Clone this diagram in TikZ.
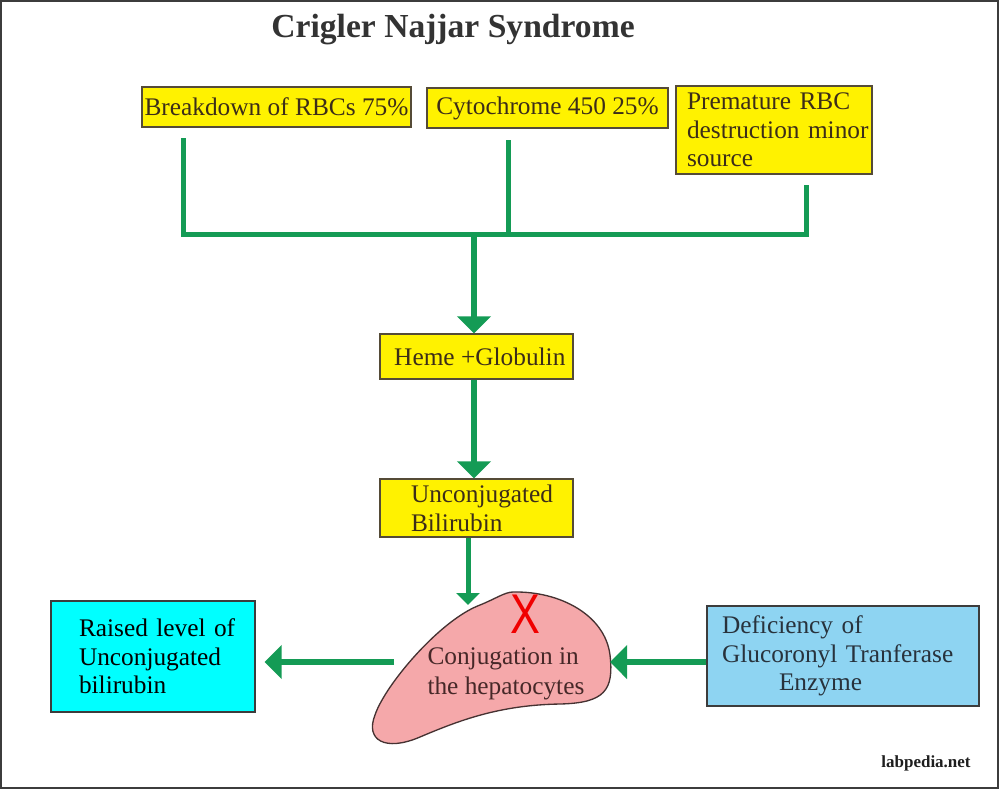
\documentclass[tikz,border=0pt]{standalone}
\usepackage{fontspec}
\setmainfont{Liberation Serif}
\newfontfamily\xfont{Liberation Sans}
\usetikzlibrary{arrows.meta}

\definecolor{boxyellow}{RGB}{255,242,0}
\definecolor{boxedge}{RGB}{85,75,55}
\definecolor{ytext}{RGB}{60,45,25}
\definecolor{flowgreen}{RGB}{20,155,85}
\definecolor{raisedcyan}{RGB}{0,255,255}
\definecolor{deficblue}{RGB}{142,212,242}
\definecolor{liverpink}{RGB}{245,168,170}
\definecolor{liveredge}{RGB}{70,50,50}
\definecolor{conjtext}{RGB}{70,40,40}
\definecolor{crossred}{RGB}{240,0,0}
\definecolor{framegray}{RGB}{60,60,60}

\tikzset{every picture/.style={line width=0.75pt}}
\tikzset{
  txt/.style={font=\fontsize{19}{21.5}\selectfont},
  ybox/.style={txt, draw=boxedge, fill=boxyellow, line width=1pt, text=ytext, inner sep=0pt},
  bbox/.style={txt, draw=framegray, line width=1pt, inner sep=0pt},
  lefttext/.style={text width=#1, align=left},
  bus/.style={draw=flowgreen, line width=3.75pt},
  bigarrow/.style={draw=flowgreen, line width=5pt, -{Triangle[width=24.75pt,length=12.75pt]}},
  smallarrow/.style={draw=flowgreen, line width=3.75pt, -{Triangle[width=17.25pt,length=9pt]}},
}

\begin{document}
\begin{tikzpicture}[x=0.75pt,y=0.75pt,yscale=-1,xscale=1]
\useasboundingbox (0,0) rectangle (999,789);

%Frame
\draw[framegray, line width=1.2pt] (0.8,0.8) rectangle (998.2,788.2);

% Text Node
\draw (453,37) node (title) [anchor=base, inner sep=0pt, text={rgb,255:red,51;green,51;blue,51},
  font=\fontsize{25.2}{28}\selectfont\bfseries] {Crigler Najjar Syndrome};

%Shape: Rectangle
\draw (276.5,107) node (brk) [ybox, minimum width=201.75pt, minimum height=30pt] {Breakdown of RBCs 75\%};
%Shape: Rectangle
\draw (547.5,108) node (cyt) [ybox, minimum width=180.75pt, minimum height=30pt] {Cytochrome 450 25\%};
%Shape: Rectangle
\draw (774,130) node (prem) [ybox, minimum height=66pt, lefttext=147pt]
  {\hspace*{8.25pt}Premature RBC\\\hspace*{8.25pt}destruction minor\\\hspace*{8.25pt}source};
%Shape: Rectangle
\draw (476.5,356.5) node (heme) [ybox, minimum width=144.75pt, minimum height=33.75pt] {\hspace*{5pt}Heme +Globulin};
%Shape: Rectangle
\draw (476.5,508) node (uncon) [ybox, minimum height=43.5pt, lefttext=144.75pt]
  {\hspace*{23.25pt}Unconjugated\\\hspace*{23.25pt}Bilirubin};
%Shape: Rectangle
\draw (153,656.5) node (raised) [bbox, fill=raisedcyan, text=black, minimum height=83.25pt, lefttext=153pt]
  {\hspace*{21pt}Raised level of\\\hspace*{21pt}Unconjugated\\\hspace*{21pt}bilirubin};
%Shape: Rectangle
\draw (843,656) node (defic) [bbox, fill=deficblue, text={rgb,255:red,40;green,50;blue,60}, minimum height=75pt,
  lefttext=204pt] {\hspace*{11.25pt}Deficiency of\\\hspace*{11.25pt}Glucoronyl Tranferase\\\hspace*{54pt}Enzyme};

%Shape: Liver
\draw[fill=liverpink, draw=liveredge, line width=1pt] (513,592)
  .. controls (560,591) and (605,615) .. (610,655)
  .. controls (614,690) and (605,703) .. (560,704)
  .. controls (500,705) and (460,720) .. (420,737)
  .. controls (385,752) and (365,740) .. (375,715)
  .. controls (385,685) and (440,620) .. (480,605)
  .. controls (495,599) and (505,592) .. (513,592) -- cycle;

% Text Node
\draw (525,614) node (cross) [inner sep=0pt, text=crossred, xscale=0.8, font=\xfont\fontsize{42}{42}\selectfont] {X};
% Text Node
\draw (427,674) node (conj) [anchor=west, inner sep=0pt, text=conjtext, align=left,
  font=\fontsize{19}{22.5}\selectfont] {Conjugation in\\the hepatocytes};

\coordinate (s1) at (183,138);
\coordinate (s2) at (508,140);
\coordinate (s3) at (806,185);
\coordinate (jn) at (474,234);
\coordinate (livtop) at (468,605);
\coordinate (livL) at (394,662);
\coordinate (livR) at (610,662);

%Straight Lines
\draw[bus] (s1) |- (s3 |- jn) -- (s3);
%Straight Lines
\draw[bus] (s2) -- (s2 |- jn);

%Arrows
\draw[bigarrow] (jn) -- (jn |- heme.north);
\draw[bigarrow] (jn |- heme.south) -- (jn |- uncon.north);
\draw[smallarrow] (livtop |- uncon.south) -- (livtop);
\draw[bigarrow, shorten >=6.75pt] (livL) -- (raised.east |- livL);
\draw[bigarrow] (defic.west |- livR) -- (livR);

% Text Node
\draw (926,763) node (site) [inner sep=0pt, text={rgb,255:red,30;green,30;blue,30},
  font=\fontsize{12.75}{14}\selectfont\bfseries] {labpedia.net};

\end{tikzpicture}
\end{document}
